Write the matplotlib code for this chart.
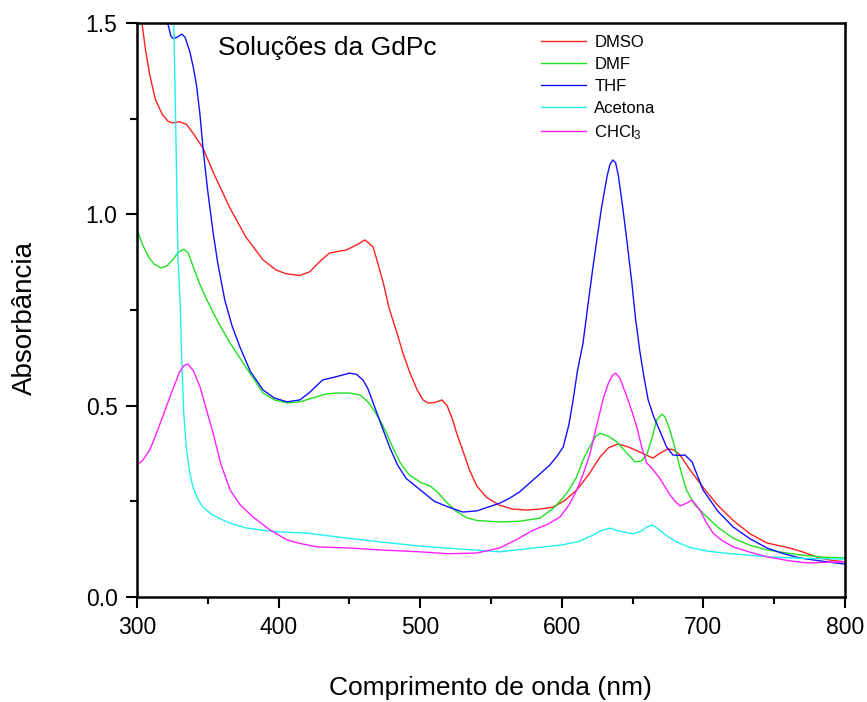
import matplotlib
matplotlib.use("Agg")
import matplotlib.pyplot as plt

plt.rcParams['font.family'] = ['Liberation Sans', 'DejaVu Sans']
plt.rcParams['mathtext.default'] = 'regular'

series_names = ["DMSO", "DMF", "THF", "Acetona", "CHCl$_3$"]
series_colors = ["#ff2020", "#20e020", "#1010ff", "#20f0f0", "#ff20ff"]

dmso_x = [300, 303.5, 306, 309, 313, 318, 322, 325, 330, 335, 340, 346.6, 355, 365.7, 377, 389, 398, 405, 415, 422, 430, 436, 442, 448, 455, 461, 466.7, 470, 474, 478, 483.6, 488, 492.8, 498, 502, 505.5, 510, 515.4, 519, 523, 526, 529.5, 535, 540, 547, 556, 565, 575.4, 585, 593.8, 602, 610.7, 619, 627, 633, 639.7, 647, 655, 664.4, 669, 675, 679, 683.5, 690, 699.7, 710, 721, 733, 745, 761, 770, 782, 790, 800]
dmso_y = [1.56, 1.50, 1.43, 1.364, 1.30, 1.26, 1.243, 1.239, 1.242, 1.235, 1.21, 1.173, 1.10, 1.016, 0.94, 0.881, 0.855, 0.845, 0.84, 0.85, 0.88, 0.899, 0.903, 0.907, 0.92, 0.933, 0.915, 0.873, 0.82, 0.755, 0.69, 0.635, 0.585, 0.54, 0.515, 0.507, 0.508, 0.515, 0.50, 0.462, 0.425, 0.389, 0.33, 0.29, 0.26, 0.24, 0.23, 0.227, 0.23, 0.235, 0.252, 0.28, 0.32, 0.366, 0.39, 0.40, 0.392, 0.379, 0.363, 0.375, 0.387, 0.385, 0.371, 0.335, 0.287, 0.24, 0.20, 0.165, 0.141, 0.128, 0.118, 0.102, 0.096, 0.092]

dmf_x = [300, 304, 308, 312, 317, 321, 325, 329, 333, 336, 340, 344, 349.4, 357, 365.7, 377, 389, 397, 406, 415, 424, 433, 441, 450, 457.5, 463, 467, 471.6, 476, 480.8, 486, 492, 500, 507, 512, 518, 525, 533, 540, 556, 570, 584.6, 595, 603.7, 610, 615, 620, 624, 627, 633, 639, 645, 651.7, 656, 660, 664, 667, 670.8, 673, 676, 680, 684, 688, 694, 702.5, 711, 721, 733, 745, 768, 785, 800]
dmf_y = [0.96, 0.92, 0.89, 0.87, 0.86, 0.865, 0.88, 0.90, 0.909, 0.90, 0.86, 0.82, 0.776, 0.72, 0.664, 0.60, 0.533, 0.515, 0.507, 0.51, 0.52, 0.53, 0.533, 0.533, 0.528, 0.51, 0.49, 0.462, 0.43, 0.389, 0.35, 0.32, 0.30, 0.29, 0.275, 0.25, 0.225, 0.207, 0.20, 0.196, 0.198, 0.206, 0.235, 0.272, 0.31, 0.358, 0.395, 0.42, 0.428, 0.42, 0.405, 0.38, 0.353, 0.355, 0.371, 0.42, 0.463, 0.478, 0.47, 0.44, 0.389, 0.33, 0.28, 0.24, 0.209, 0.18, 0.154, 0.135, 0.123, 0.11, 0.104, 0.102]

thf_x = [320, 322, 324, 325.4, 328, 331.8, 334, 337.4, 340, 342, 344.5, 346.6, 350, 353.7, 357, 362, 367, 372.7, 380, 389, 397, 406, 415, 422, 431, 440, 450, 455, 459.6, 463, 466, 469.5, 474, 478.7, 484, 490, 500, 510, 520, 530, 540, 548, 556, 563, 570, 581, 591.6, 597, 601, 605, 608, 611, 615, 618, 622, 625, 628, 632, 634, 636, 638, 640, 643, 646, 649.5, 652, 655, 658, 661, 665, 669, 674, 678.5, 683, 687, 692, 696, 699.7, 710, 721, 733, 745, 755, 768, 785, 800]
thf_y = [1.56, 1.495, 1.465, 1.46, 1.462, 1.471, 1.462, 1.424, 1.38, 1.338, 1.26, 1.173, 1.06, 0.954, 0.873, 0.776, 0.71, 0.653, 0.59, 0.541, 0.52, 0.51, 0.515, 0.535, 0.567, 0.575, 0.585, 0.582, 0.567, 0.545, 0.515, 0.48, 0.435, 0.389, 0.345, 0.31, 0.28, 0.25, 0.235, 0.222, 0.225, 0.235, 0.245, 0.258, 0.274, 0.31, 0.345, 0.37, 0.392, 0.45, 0.515, 0.59, 0.664, 0.75, 0.862, 0.94, 1.016, 1.10, 1.13, 1.142, 1.135, 1.10, 1.019, 0.93, 0.82, 0.73, 0.645, 0.575, 0.515, 0.47, 0.436, 0.392, 0.371, 0.37, 0.371, 0.353, 0.315, 0.28, 0.225, 0.183, 0.152, 0.128, 0.115, 0.102, 0.093, 0.086]

acet_x = [325, 326, 327.5, 329, 330.4, 331.8, 333, 335, 337, 339.5, 343, 346.6, 353, 360.7, 368, 377.7, 390, 401, 420, 435, 448, 471.6, 500, 530, 556, 580, 600, 612, 622, 628, 634, 641, 650, 656, 660, 664, 668, 674, 681, 690, 702.5, 720, 745, 770, 800]
acet_y = [1.60, 1.495, 1.20, 0.873, 0.776, 0.601, 0.48, 0.384, 0.33, 0.287, 0.255, 0.235, 0.215, 0.201, 0.19, 0.18, 0.174, 0.17, 0.167, 0.16, 0.154, 0.144, 0.133, 0.125, 0.118, 0.128, 0.136, 0.145, 0.162, 0.174, 0.18, 0.172, 0.165, 0.172, 0.183, 0.188, 0.178, 0.16, 0.144, 0.13, 0.12, 0.113, 0.105, 0.101, 0.099]

chcl_x = [300, 304, 309, 313, 318, 324, 330, 333, 336, 340, 344.5, 349, 353.7, 359, 365.7, 373, 382, 394, 406, 415, 427, 450, 471.6, 500, 520, 540, 556, 568, 580, 590, 598.7, 605, 610.7, 615, 620, 624.8, 629, 633, 636, 638, 641, 646, 650, 653, 656.6, 660, 664, 669, 676.4, 680, 683.5, 688, 692, 697.6, 702, 706.8, 713, 721, 733, 745, 760, 773, 800]
chcl_y = [0.345, 0.357, 0.384, 0.42, 0.47, 0.53, 0.588, 0.604, 0.609, 0.59, 0.549, 0.49, 0.429, 0.35, 0.28, 0.24, 0.209, 0.175, 0.149, 0.14, 0.131, 0.128, 0.123, 0.118, 0.113, 0.115, 0.128, 0.15, 0.175, 0.19, 0.209, 0.24, 0.28, 0.32, 0.376, 0.45, 0.515, 0.56, 0.58, 0.585, 0.572, 0.523, 0.48, 0.444, 0.389, 0.35, 0.335, 0.311, 0.267, 0.25, 0.238, 0.245, 0.253, 0.227, 0.195, 0.167, 0.148, 0.131, 0.117, 0.105, 0.095, 0.089, 0.092]

xs = [dmso_x, dmf_x, thf_x, acet_x, chcl_x]
ys = [dmso_y, dmf_y, thf_y, acet_y, chcl_y]

x_ticks = [300, 400, 500, 600, 700, 800]
y_ticks = [0.0, 0.5, 1.0, 1.5]

fig = plt.figure(figsize=(8.67, 7.02), dpi=100)
ax = fig.add_axes([137/867, 1 - 597/702, (845-137)/867, (597-23)/702])

for x, y, c, n in zip(xs, ys, series_colors, series_names):
    ax.plot(x, y, color=c, lw=1.0, label=n)

ax.set_xlim(300, 800)
ax.set_ylim(0, 1.5)
ax.set_xticks(x_ticks)
ax.set_yticks(y_ticks)
ax.set_yticklabels([f"{v:.1f}" for v in y_ticks])
ax.set_xticks([350, 450, 550, 650, 750], minor=True)
ax.set_yticks([0.25, 0.75, 1.25], minor=True)
ax.tick_params(which='both', direction='out', top=False, right=False, width=1.5, labelsize=16.5, pad=6)
ax.tick_params(which='major', length=8)
ax.tick_params(which='minor', length=5)
for s in ax.spines.values():
    s.set_linewidth(1.8)

fig.text(490/867, 1 - 688/702, "Comprimento de onda (nm)", ha='center', va='center', fontsize=19)
fig.text(25/867, 1 - 318/702, "Absorbância", ha='center', va='center', rotation=90, fontsize=20)
ax.text(218/867, 1 - 48/702, "Soluções da GdPc", transform=fig.transFigure, ha='left', va='center', fontsize=19)

leg = ax.legend(loc='upper left', bbox_to_anchor=(541/867, 1 - 35/702), bbox_transform=fig.transFigure,
                frameon=False, fontsize=12, handlelength=2.7, handletextpad=0.5, labelspacing=0.42,
                borderpad=0, borderaxespad=0)

fig.savefig("out.png", dpi=100)
